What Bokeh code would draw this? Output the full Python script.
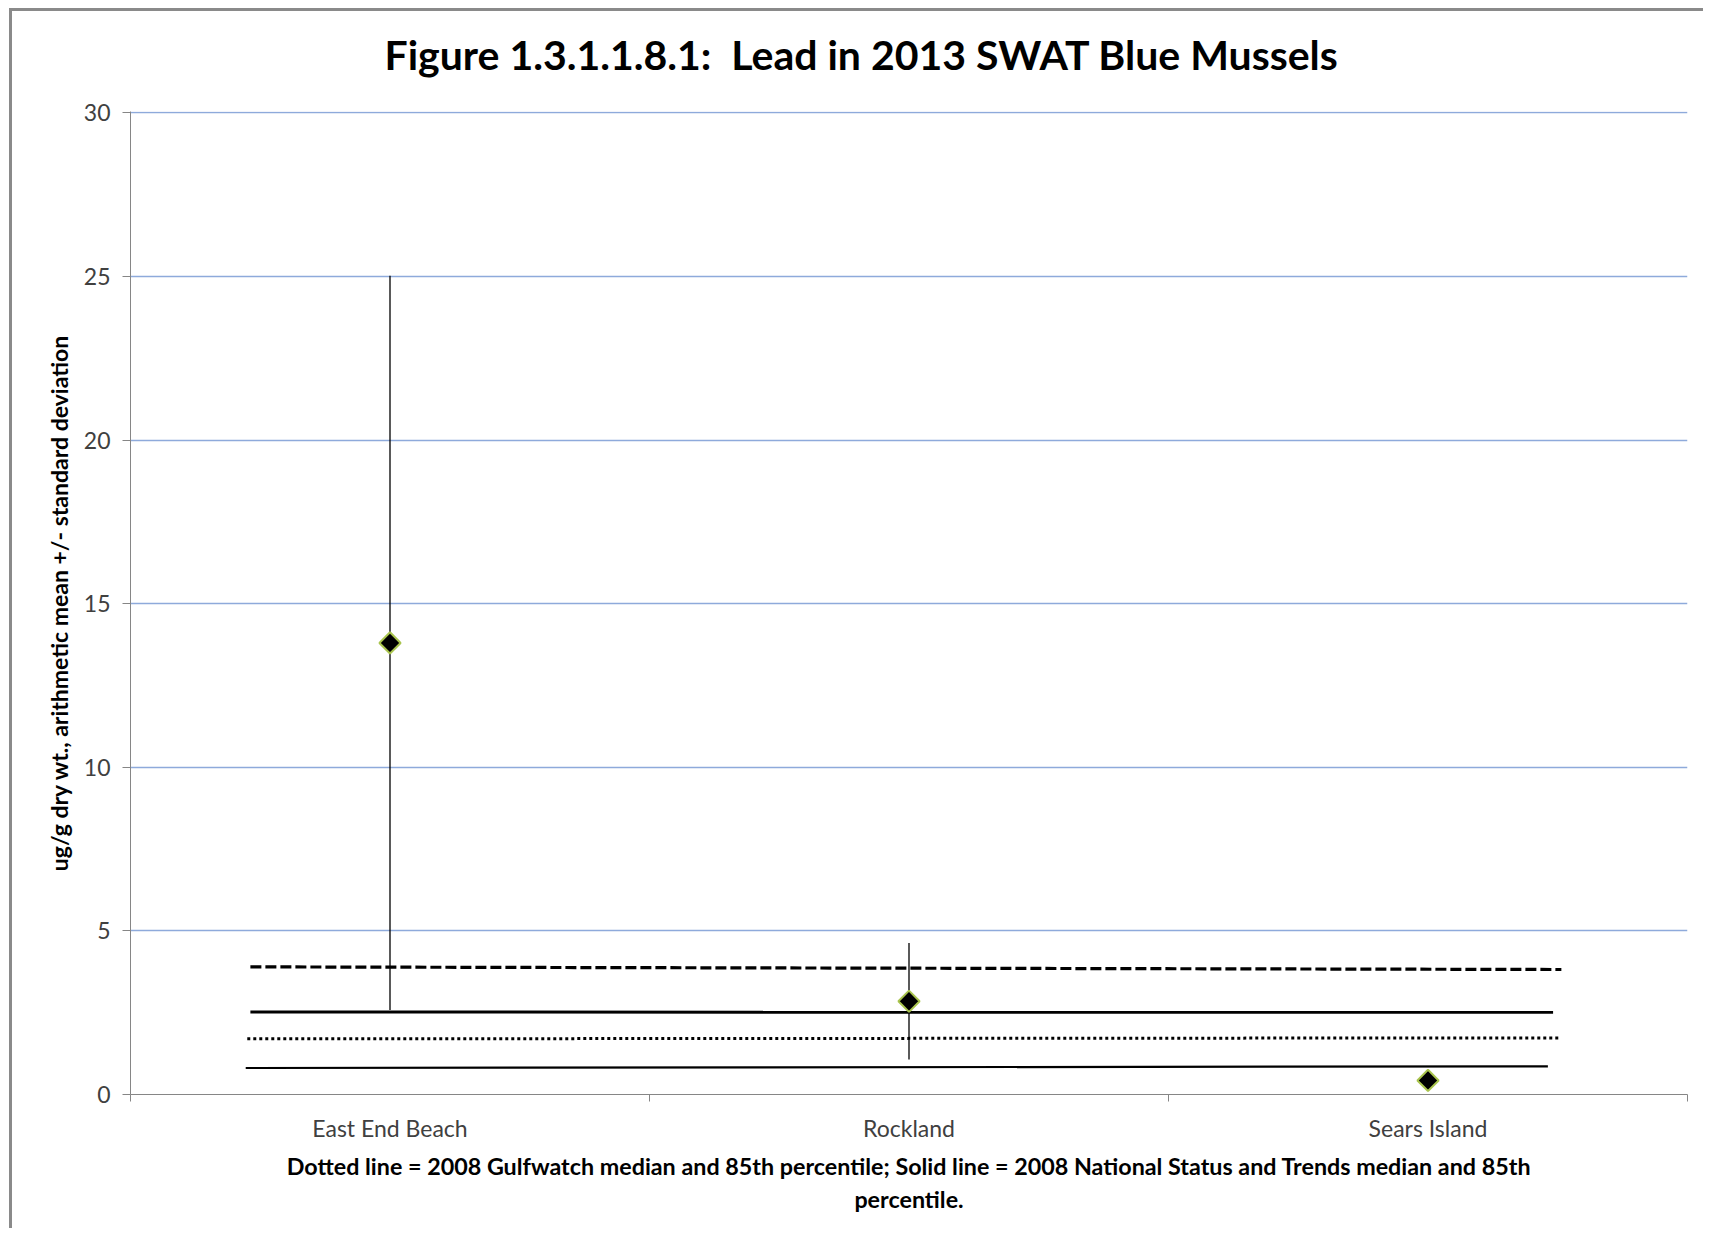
import math
from bokeh.plotting import figure
from bokeh.models import Range1d, FixedTicker, ColumnDataSource, Title
from bokeh.embed import file_html
from bokeh.resources import INLINE

# ---------------- data ----------------
categories = ["East End Beach", "Rockland", "Sears Island"]
means = [13.8, 2.85, 0.43]
std_devs = [11.22, 1.78, 0.10]

y_ticks = [0, 5, 10, 15, 20, 25, 30]

# reference lines: value at left end and right end (ug/g), extent in category units
ref_names = ["Gulfwatch 85th percentile", "NS&T 85th percentile",
             "Gulfwatch median", "NS&T median"]
ref_left = [3.90, 2.52, 1.70, 0.81]
ref_right = [3.82, 2.51, 1.73, 0.86]
ref_start = [0.231, 0.231, 0.225, 0.222]
ref_end = [2.757, 2.741, 2.753, 2.731]

title_text = "Figure 1.3.1.1.8.1:\u00a0 Lead in 2013 SWAT Blue Mussels"
y_label = "ug/g dry wt., arithmetic mean +/- standard deviation"
note_line1 = ("Dotted line = 2008 Gulfwatch median and 85th percentile; Solid line = "
              "2008 National Status and Trends median and 85th")
note_line2 = "percentile."

# ---------------- styles ----------------
FONT = "Lato"
AXIS_GRAY = "#868686"
GRID_BLUE = "#8EAADB"
ref_styles = [
    dict(line_width=3.2, line_dash="11 4"),
    dict(line_width=3.0, line_dash="solid"),
    dict(line_width=3.0, line_dash="3 3"),
    dict(line_width=2.2, line_dash="solid"),
]

x_centers = [i + 0.5 for i in range(len(categories))]
x_bounds = list(range(len(categories) + 1))

p = figure(width=1694, height=1220, output_backend="svg", toolbar_location=None,
           x_range=Range1d(0, len(categories)), y_range=Range1d(y_ticks[0], y_ticks[-1] + 0.04),
           min_border_left=118, min_border_right=19, min_border_top=100,
           min_border_bottom=137)
p.styles = {"border-left": "3px solid #8a8a8a", "border-top": "3px solid #8a8a8a",
            "margin-left": "9px", "margin-top": "8px"}
p.outline_line_color = None
p.background_fill_color = "white"
p.border_fill_color = "white"

# main title
p.title.text = title_text
p.title.text_font = FONT
p.title.text_font_style = "bold"
p.title.text_font_size = "41px"
p.title.text_color = "black"
p.title.align = "left"
p.title.offset = 254
p.title.standoff = 0

# spacer between frame and the main title
p.add_layout(Title(text="\u00a0", text_font_size="1px", standoff=30), "above")

# grid
p.xgrid.visible = False
p.ygrid.ticker = FixedTicker(ticks=y_ticks)
p.ygrid.grid_line_color = GRID_BLUE
p.ygrid.grid_line_width = 1.5

# y axis
ya = p.yaxis[0]
ya.ticker = FixedTicker(ticks=y_ticks)
ya.axis_line_color = AXIS_GRAY
ya.major_tick_line_color = AXIS_GRAY
ya.major_tick_out = 8
ya.major_tick_in = 0
ya.minor_tick_line_color = None
ya.major_label_text_font = FONT
ya.major_label_text_font_size = "23px"
ya.major_label_text_color = "#404040"
ya.major_label_standoff = 12
ya.axis_label = y_label
ya.axis_label_text_font = FONT
ya.axis_label_text_font_style = "bold"
ya.axis_label_text_font_size = "23px"
ya.axis_label_text_color = "black"
ya.axis_label_standoff = 8

# x axis
xa = p.xaxis[0]
xa.ticker = FixedTicker(ticks=x_centers, minor_ticks=x_bounds)
xa.major_label_overrides = {c: n for c, n in zip(x_centers, categories)}
xa.axis_line_color = AXIS_GRAY
xa.major_tick_line_color = None
xa.major_tick_out = 0
xa.major_tick_in = 0
xa.minor_tick_line_color = AXIS_GRAY
xa.minor_tick_out = 7
xa.minor_tick_in = 0
xa.major_label_text_font = FONT
xa.major_label_text_font_size = "23px"
xa.major_label_text_color = "#404040"
xa.major_label_standoff = 12
# footnote, first line as the x-axis label, second as a title below
xa.axis_label = note_line1
xa.axis_label_text_font = FONT
xa.axis_label_text_font_style = "bold"
xa.axis_label_text_font_size = "23.3px"
xa.axis_label_text_color = "black"
xa.axis_label_standoff = 7

p.add_layout(Title(text=note_line2, align="center", text_font=FONT, text_font_style="bold",
                   text_font_size="23.3px", text_color="black", standoff=0,
                   text_line_height=0.85), "below")

# reference lines
for i in range(len(ref_names)):
    p.line(x=[ref_start[i], ref_end[i]], y=[ref_left[i], ref_right[i]],
           line_color="black", **ref_styles[i])

# error bars + means
src = ColumnDataSource(dict(
    x=x_centers,
    mean=means,
    lo=[m - s for m, s in zip(means, std_devs)],
    hi=[m + s for m, s in zip(means, std_devs)],
))
p.segment(x0="x", y0="lo", x1="x", y1="hi", source=src, line_color="black", line_width=1.3)
p.scatter(x="x", y="mean", source=src, marker="square", angle=math.pi / 4, size=15,
          fill_color="black", line_color="#A9C44E", line_width=2)

open("out.html", "w").write(file_html(p, INLINE))
